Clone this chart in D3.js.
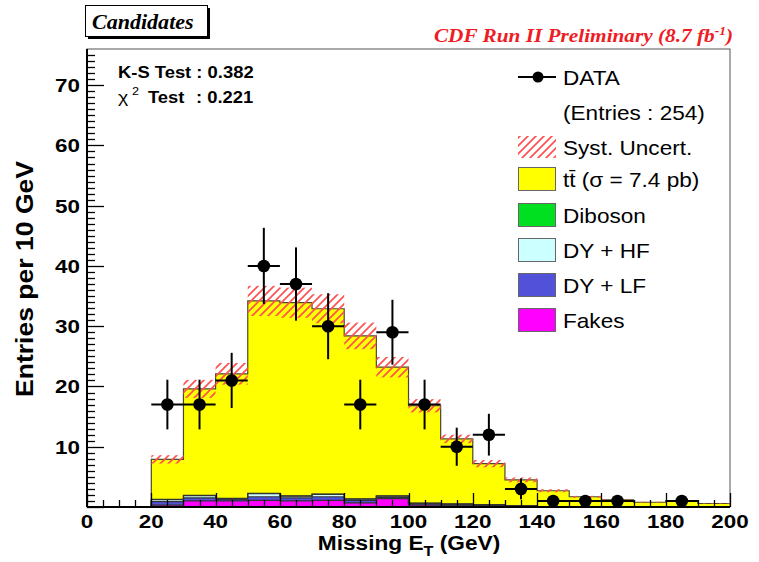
<!DOCTYPE html>
<html>
<head>
<meta charset="utf-8">
<script src="https://cdn.jsdelivr.net/npm/d3@7"></script>
<style>
  body { margin: 0; background: #fff; }
  svg { display: block; }
</style>
</head>
<body>
<script>
// bins of 10 GeV, lower edges
var binLo = [0, 10, 20, 30, 40, 50, 60, 70, 80, 90, 100, 110, 120, 130, 140, 150, 160, 170, 180, 190];
var fakes   = [0, 0, 0.3, 1.0, 1.0, 1.1, 1.0, 1.1, 0.7, 1.4, 0.3, 0.2, 0.2, 0.1, 0, 0, 0, 0, 0, 0];
var dyLF    = [0, 0, 0.6, 0.5, 0.3, 0.6, 0.5, 0.6, 0.4, 0.2, 0.2, 0.2, 0.1, 0.05, 0.03, 0.02, 0.02, 0, 0, 0];
var dyHF    = [0, 0, 0.3, 0.4, 0.1, 0.5, 0.3, 0.4, 0.2, 0.2, 0.1, 0.1, 0.05, 0.05, 0.02, 0.02, 0.01, 0, 0, 0];
var diboson = [0, 0, 0.05, 0.05, 0.05, 0.05, 0.05, 0.05, 0.05, 0.05, 0.05, 0.03, 0.03, 0.02, 0.02, 0.01, 0.01, 0.01, 0.01, 0];
var ttbar   = [0, 0, 6.65, 17.65, 20.65, 31.95, 32.05, 30.75, 27.05, 21.35, 16.15, 10.77, 6.82, 4.28, 2.63, 1.65, 1.16, 0.78, 0.98, 0.58];
var syst    = [0, 0, 0.7, 1.5, 1.8, 2.5, 2.5, 2.4, 2.2, 1.7, 1.1, 0.7, 0.6, 0.4, 0.25, 0.15, 0.1, 0.08, 0.1, 0.05];

var dataE = [25, 35, 45, 55, 65, 75, 85, 95, 105, 115, 125, 135, 145, 155, 165, 185];
var dataN = [17, 17, 21, 40, 37, 30, 17, 29, 17, 10, 12, 3, 1, 1, 1, 1];

var xTicks = [0, 20, 40, 60, 80, 100, 120, 140, 160, 180, 200];
var yTicks = [10, 20, 30, 40, 50, 60, 70];

var legendLabels = ['DATA', '(Entries : 254)', 'Syst. Uncert.', 'tt\u0304 (\u03c3 = 7.4 pb)', 'Diboson', 'DY + HF', 'DY + LF', 'Fakes'];
var keys = ['fakes', 'dyLF', 'dyHF', 'diboson', 'ttbar'];
var colors = {fakes: '#ff00ff', dyLF: '#5151d9', dyHF: '#ccffff', diboson: '#00e020', ttbar: '#ffff00'};

var width = 759, height = 562;
var x = d3.scaleLinear().domain([0, 200]).range([87, 730]);
var y = d3.scaleLinear().domain([0, 76]).range([507, 49]);
var sx = 1.15; // the picture is a bit wider than the font

var svg = d3.select('body').append('svg')
    .attr('width', width)
    .attr('height', height);

var defs = svg.append('defs');
var pat = defs.append('pattern')
    .attr('id', 'hatch')
    .attr('patternUnits', 'userSpaceOnUse')
    .attr('width', 8)
    .attr('height', 8);
pat.append('path')
    .attr('d', 'M0,8 L8,0 M-2,2 L2,-2 M6,10 L10,6')
    .attr('stroke', '#ff5050')
    .attr('stroke-width', 1.7);

function label(g, px, py, str, size, opts) {
    opts = opts || {};
    var t = g.append('text')
        .attr('transform', 'translate(' + px + ',' + py + ') scale(' + (opts.sx || sx) + ',1)')
        .attr('font-family', opts.family || 'Liberation Sans, Arial, sans-serif')
        .attr('font-size', size)
        .attr('font-weight', opts.weight || 'normal')
        .attr('font-style', opts.style || 'normal')
        .attr('fill', opts.fill || 'black')
        .attr('text-anchor', opts.anchor || 'start')
        .text(str);
    return t;
}

// stacked histogram
var rows = binLo.map(function(lo, i) {
    return {lo: lo, fakes: fakes[i], dyLF: dyLF[i], dyHF: dyHF[i], diboson: diboson[i], ttbar: ttbar[i]};
});
var series = d3.stack().keys(keys)(rows);

var plot = svg.append('g');

series.forEach(function(s) {
    plot.selectAll(null)
        .data(s)
        .enter()
        .append('rect')
        .attr('x', function(d) { return x(d.data.lo); })
        .attr('width', function(d) { return x(d.data.lo + 10) - x(d.data.lo); })
        .attr('y', function(d) { return y(d[1]); })
        .attr('height', function(d) { return y(d[0]) - y(d[1]); })
        .attr('fill', colors[s.key])
        .attr('shape-rendering', 'crispEdges');
});

var step = d3.line()
    .x(function(d) { return x(d[0]); })
    .y(function(d) { return y(d[1]); })
    .curve(d3.curveStepAfter);

series.forEach(function(s) {
    var pts = s.map(function(d) { return [d.data.lo, d[1]]; });
    pts.push([200, s[s.length - 1][1]]);
    plot.append('path')
        .attr('d', step(pts))
        .attr('fill', 'none')
        .attr('stroke', s.key === 'ttbar' ? '#4a4a2a' : '#333')
        .attr('stroke-width', 1.2);
});

// systematic band around the total
var total = series[series.length - 1];
plot.selectAll(null)
    .data(total.filter(function(d) { return d[1] > 0; }))
    .enter()
    .append('rect')
    .attr('x', function(d) { return x(d.data.lo); })
    .attr('width', function(d) { return x(d.data.lo + 10) - x(d.data.lo); })
    .attr('y', function(d) { return y(d[1] + syst[binLo.indexOf(d.data.lo)]); })
    .attr('height', function(d) {
        var e = syst[binLo.indexOf(d.data.lo)];
        return y(d[1] - e) - y(d[1] + e);
    })
    .attr('fill', 'url(#hatch)');

// axes and frame
var axes = svg.append('g');
axes.append('rect')
    .attr('x', x(0)).attr('y', y(76))
    .attr('width', x(200) - x(0)).attr('height', y(0) - y(76))
    .attr('fill', 'none')
    .attr('stroke', '#555')
    .attr('stroke-width', 1);
axes.append('line')
    .attr('x1', x(0)).attr('x2', x(0)).attr('y1', y(76)).attr('y2', y(0))
    .attr('stroke', 'black').attr('stroke-width', 2);
axes.append('line')
    .attr('x1', x(0)).attr('x2', x(200)).attr('y1', y(0)).attr('y2', y(0))
    .attr('stroke', 'black').attr('stroke-width', 2);

d3.range(0, 76, 1).forEach(function(v) {
    var major = v % 10 === 0;
    axes.append('line')
        .attr('x1', x(0)).attr('x2', x(0) + (major ? 17 : 8))
        .attr('y1', Math.round(y(v)) + 0.5).attr('y2', Math.round(y(v)) + 0.5)
        .attr('stroke', 'black').attr('stroke-width', 1.3);
});
d3.range(0, 201, 5).forEach(function(v) {
    var major = v % 20 === 0;
    axes.append('line')
        .attr('x1', Math.round(x(v)) + 0.5).attr('x2', Math.round(x(v)) + 0.5)
        .attr('y1', y(0)).attr('y2', y(0) - (major ? 14 : 7))
        .attr('stroke', 'black').attr('stroke-width', 1.3);
});

yTicks.forEach(function(v) {
    label(axes, 80, y(v) + 7, v, 19, {weight: 'bold', anchor: 'end', sx: 1.18});
});
xTicks.forEach(function(v) {
    label(axes, x(v), 528, v, 19, {weight: 'bold', anchor: 'middle', sx: 1.18});
});

// axis titles
var xt = label(axes, 409, 550, '', 21, {weight: 'bold', anchor: 'middle', sx: 1.08});
xt.append('tspan').text('Missing E');
xt.append('tspan').attr('font-size', 15).attr('dy', 6).text('T');
xt.append('tspan').attr('dy', -6).text(' (GeV)');

axes.append('text')
    .attr('transform', 'translate(33,279) rotate(-90)')
    .attr('font-family', 'Liberation Sans, Arial, sans-serif')
    .attr('font-size', 23)
    .attr('font-weight', 'bold')
    .attr('text-anchor', 'middle')
    .attr('textLength', 236)
    .attr('lengthAdjust', 'spacingAndGlyphs')
    .text('Entries per 10 GeV');

// data points
var pts = svg.append('g');
dataE.forEach(function(e, i) {
    var n = dataN[i], err = Math.sqrt(n);
    pts.append('line')
        .attr('x1', x(e - 5)).attr('x2', x(e + 5))
        .attr('y1', y(n)).attr('y2', y(n))
        .attr('stroke', 'black').attr('stroke-width', 2);
    pts.append('line')
        .attr('x1', x(e)).attr('x2', x(e))
        .attr('y1', y(n - err)).attr('y2', y(n + err))
        .attr('stroke', 'black').attr('stroke-width', 2);
    pts.append('circle')
        .attr('cx', x(e)).attr('cy', y(n))
        .attr('r', 6.3)
        .attr('fill', 'black');
});

// statistics text
label(svg, 118, 78, 'K-S Test : 0.382', 16, {weight: 'bold'});
label(svg, 118, 103, '\u03c7', 17, {});
label(svg, 132, 95, '2', 11, {});
label(svg, 148, 103, 'Test', 16, {weight: 'bold'});
label(svg, 196, 103, ': 0.221', 16, {weight: 'bold'});

// legend
var leg = svg.append('g');
var rowY = [77, 112, 147, 179, 215, 250, 285, 320];
leg.append('line')
    .attr('x1', 518).attr('x2', 556).attr('y1', rowY[0]).attr('y2', rowY[0])
    .attr('stroke', 'black').attr('stroke-width', 2);
leg.append('circle')
    .attr('cx', 538).attr('cy', rowY[0]).attr('r', 5.5).attr('fill', 'black');
leg.append('rect')
    .attr('x', 518).attr('y', rowY[2] - 11).attr('width', 38).attr('height', 22)
    .attr('fill', 'url(#hatch)');
['ttbar', 'diboson', 'dyHF', 'dyLF', 'fakes'].forEach(function(k, i) {
    leg.append('rect')
        .attr('x', 518.5).attr('y', rowY[i + 3] - 11.5)
        .attr('width', 37).attr('height', 23)
        .attr('fill', colors[k])
        .attr('stroke', '#666')
        .attr('stroke-width', 1);
});
legendLabels.forEach(function(t, i) {
    label(leg, 563, rowY[i] + 7.5, t, 20, {sx: 1.13});
});

// header boxes
var head = svg.append('g');
head.append('rect')
    .attr('x', 88).attr('y', 8).attr('width', 122).attr('height', 31)
    .attr('fill', 'black');
head.append('rect')
    .attr('x', 85.5).attr('y', 5.5).attr('width', 122).attr('height', 31)
    .attr('fill', 'white').attr('stroke', 'black').attr('stroke-width', 1);
label(head, 92, 29, 'Candidates', 21, {family: 'Liberation Serif, Times New Roman, serif', weight: 'bold', style: 'italic', sx: 1.05});

var cdf = label(head, 733, 42, '', 19, {family: 'Liberation Serif, Times New Roman, serif', weight: 'bold', style: 'italic', anchor: 'end', fill: '#ee1c25', sx: 1.12});
cdf.append('tspan').text('CDF Run II Preliminary (8.7 fb');
cdf.append('tspan').attr('font-size', 12).attr('dy', -7).text('-1');
cdf.append('tspan').attr('dy', 7).text(')');
</script>
</body>
</html>
